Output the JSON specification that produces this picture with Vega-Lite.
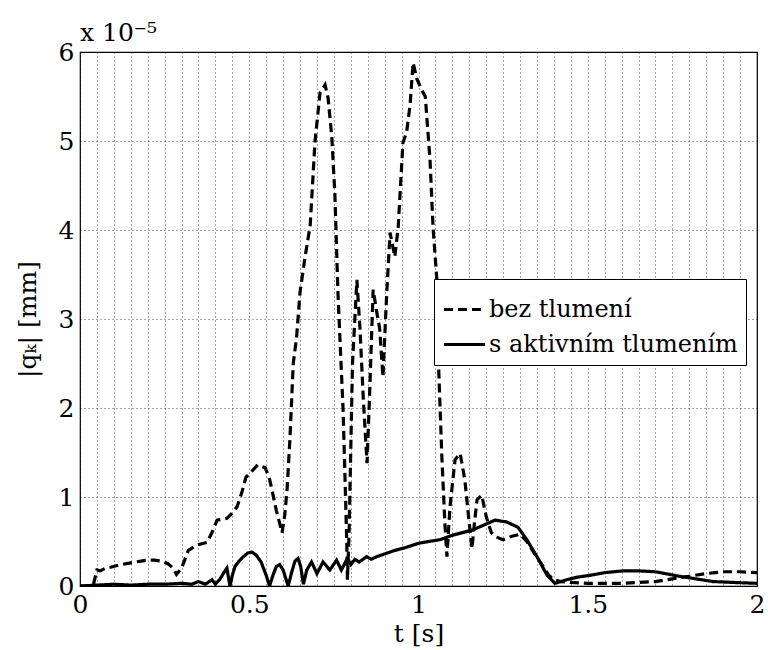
{
  "$schema": "https://vega.github.io/schema/vega-lite/v6.json",
  "width": 677,
  "height": 534,
  "autosize": "none",
  "padding": {"left": 80, "top": 52, "right": 11, "bottom": 64},
  "background": "white",
  "config": {
    "font": "DejaVu Serif",
    "view": {"stroke": "black", "strokeWidth": 1.2},
    "axis": {
      "labelFont": "DejaVu Serif", "titleFont": "DejaVu Serif",
      "labelFontSize": 25, "titleFontSize": 25, "titleFontWeight": "normal",
      "labelColor": "black", "titleColor": "black",
      "domain": false, "ticks": false,
      "grid": true, "gridColor": "black", "gridDash": [1, 3], "gridOpacity": 0.7, "gridWidth": 1
    }
  },
  "title": {
    "text": "x 10⁻⁵", "anchor": "start", "frame": "group", "font": "DejaVu Serif",
    "fontSize": 25, "fontWeight": "normal", "color": "black", "offset": -6, "dx": 0
  },
  "data": {
    "values": [
      {"t": 0, "q": 0, "s": "bez tlumení"},
      {"t": 0.03, "q": 0, "s": "bez tlumení"},
      {"t": 0.04, "q": 0.02, "s": "bez tlumení"},
      {"t": 0.05, "q": 0.18, "s": "bez tlumení"},
      {"t": 0.06, "q": 0.17, "s": "bez tlumení"},
      {"t": 0.075, "q": 0.2, "s": "bez tlumení"},
      {"t": 0.09, "q": 0.21, "s": "bez tlumení"},
      {"t": 0.12, "q": 0.24, "s": "bez tlumení"},
      {"t": 0.15, "q": 0.26, "s": "bez tlumení"},
      {"t": 0.18, "q": 0.28, "s": "bez tlumení"},
      {"t": 0.2, "q": 0.29, "s": "bez tlumení"},
      {"t": 0.22, "q": 0.29, "s": "bez tlumení"},
      {"t": 0.24, "q": 0.28, "s": "bez tlumení"},
      {"t": 0.26, "q": 0.25, "s": "bez tlumení"},
      {"t": 0.275, "q": 0.2, "s": "bez tlumení"},
      {"t": 0.285, "q": 0.13, "s": "bez tlumení"},
      {"t": 0.3, "q": 0.2, "s": "bez tlumení"},
      {"t": 0.32, "q": 0.4, "s": "bez tlumení"},
      {"t": 0.345, "q": 0.46, "s": "bez tlumení"},
      {"t": 0.375, "q": 0.49, "s": "bez tlumení"},
      {"t": 0.39, "q": 0.6, "s": "bez tlumení"},
      {"t": 0.405, "q": 0.74, "s": "bez tlumení"},
      {"t": 0.42, "q": 0.75, "s": "bez tlumení"},
      {"t": 0.434, "q": 0.76, "s": "bez tlumení"},
      {"t": 0.45, "q": 0.82, "s": "bez tlumení"},
      {"t": 0.464, "q": 0.89, "s": "bez tlumení"},
      {"t": 0.478, "q": 1.05, "s": "bez tlumení"},
      {"t": 0.49, "q": 1.22, "s": "bez tlumení"},
      {"t": 0.51, "q": 1.3, "s": "bez tlumení"},
      {"t": 0.525, "q": 1.36, "s": "bez tlumení"},
      {"t": 0.547, "q": 1.33, "s": "bez tlumení"},
      {"t": 0.56, "q": 1.2, "s": "bez tlumení"},
      {"t": 0.567, "q": 1.08, "s": "bez tlumení"},
      {"t": 0.58, "q": 0.85, "s": "bez tlumení"},
      {"t": 0.597, "q": 0.6, "s": "bez tlumení"},
      {"t": 0.605, "q": 0.8, "s": "bez tlumení"},
      {"t": 0.612, "q": 1.1, "s": "bez tlumení"},
      {"t": 0.62, "q": 1.64, "s": "bez tlumení"},
      {"t": 0.63, "q": 2.5, "s": "bez tlumení"},
      {"t": 0.64, "q": 2.8, "s": "bez tlumení"},
      {"t": 0.65, "q": 3.3, "s": "bez tlumení"},
      {"t": 0.665, "q": 3.7, "s": "bez tlumení"},
      {"t": 0.68, "q": 4.05, "s": "bez tlumení"},
      {"t": 0.694, "q": 4.98, "s": "bez tlumení"},
      {"t": 0.709, "q": 5.54, "s": "bez tlumení"},
      {"t": 0.724, "q": 5.63, "s": "bez tlumení"},
      {"t": 0.733, "q": 5.48, "s": "bez tlumení"},
      {"t": 0.744, "q": 5.04, "s": "bez tlumení"},
      {"t": 0.753, "q": 4.4, "s": "bez tlumení"},
      {"t": 0.762, "q": 3.3, "s": "bez tlumení"},
      {"t": 0.77, "q": 2.6, "s": "bez tlumení"},
      {"t": 0.777, "q": 2.0, "s": "bez tlumení"},
      {"t": 0.783, "q": 1.2, "s": "bez tlumení"},
      {"t": 0.788, "q": 0.5, "s": "bez tlumení"},
      {"t": 0.79, "q": 0.07, "s": "bez tlumení"},
      {"t": 0.795, "q": 0.6, "s": "bez tlumení"},
      {"t": 0.805, "q": 2.5, "s": "bez tlumení"},
      {"t": 0.818, "q": 3.44, "s": "bez tlumení"},
      {"t": 0.827, "q": 2.9, "s": "bez tlumení"},
      {"t": 0.837, "q": 2.1, "s": "bez tlumení"},
      {"t": 0.848, "q": 1.38, "s": "bez tlumení"},
      {"t": 0.856, "q": 2.2, "s": "bez tlumení"},
      {"t": 0.866, "q": 3.33, "s": "bez tlumení"},
      {"t": 0.877, "q": 3.07, "s": "bez tlumení"},
      {"t": 0.885, "q": 2.9, "s": "bez tlumení"},
      {"t": 0.895, "q": 2.35, "s": "bez tlumení"},
      {"t": 0.905, "q": 3.2, "s": "bez tlumení"},
      {"t": 0.916, "q": 3.97, "s": "bez tlumení"},
      {"t": 0.93, "q": 3.7, "s": "bez tlumení"},
      {"t": 0.94, "q": 4.03, "s": "bez tlumení"},
      {"t": 0.954, "q": 4.98, "s": "bez tlumení"},
      {"t": 0.965, "q": 5.1, "s": "bez tlumení"},
      {"t": 0.975, "q": 5.4, "s": "bez tlumení"},
      {"t": 0.984, "q": 5.88, "s": "bez tlumení"},
      {"t": 0.995, "q": 5.7, "s": "bez tlumení"},
      {"t": 1.01, "q": 5.57, "s": "bez tlumení"},
      {"t": 1.02, "q": 5.5, "s": "bez tlumení"},
      {"t": 1.034, "q": 4.79, "s": "bez tlumení"},
      {"t": 1.043, "q": 4.03, "s": "bez tlumení"},
      {"t": 1.055, "q": 3.4, "s": "bez tlumení"},
      {"t": 1.06, "q": 2.4, "s": "bez tlumení"},
      {"t": 1.069, "q": 1.45, "s": "bez tlumení"},
      {"t": 1.078, "q": 0.7, "s": "bez tlumení"},
      {"t": 1.084, "q": 0.33, "s": "bez tlumení"},
      {"t": 1.093, "q": 0.89, "s": "bez tlumení"},
      {"t": 1.108, "q": 1.42, "s": "bez tlumení"},
      {"t": 1.123, "q": 1.49, "s": "bez tlumení"},
      {"t": 1.137, "q": 1.19, "s": "bez tlumení"},
      {"t": 1.15, "q": 0.7, "s": "bez tlumení"},
      {"t": 1.158, "q": 0.42, "s": "bez tlumení"},
      {"t": 1.165, "q": 0.7, "s": "bez tlumení"},
      {"t": 1.173, "q": 0.97, "s": "bez tlumení"},
      {"t": 1.187, "q": 1.02, "s": "bez tlumení"},
      {"t": 1.2, "q": 0.78, "s": "bez tlumení"},
      {"t": 1.215, "q": 0.6, "s": "bez tlumení"},
      {"t": 1.23, "q": 0.55, "s": "bez tlumení"},
      {"t": 1.25, "q": 0.52, "s": "bez tlumení"},
      {"t": 1.276, "q": 0.56, "s": "bez tlumení"},
      {"t": 1.3, "q": 0.58, "s": "bez tlumení"},
      {"t": 1.32, "q": 0.5, "s": "bez tlumení"},
      {"t": 1.345, "q": 0.35, "s": "bez tlumení"},
      {"t": 1.368, "q": 0.22, "s": "bez tlumení"},
      {"t": 1.385, "q": 0.12, "s": "bez tlumení"},
      {"t": 1.4, "q": 0.07, "s": "bez tlumení"},
      {"t": 1.42, "q": 0.05, "s": "bez tlumení"},
      {"t": 1.45, "q": 0.04, "s": "bez tlumení"},
      {"t": 1.5, "q": 0.03, "s": "bez tlumení"},
      {"t": 1.55, "q": 0.03, "s": "bez tlumení"},
      {"t": 1.6, "q": 0.03, "s": "bez tlumení"},
      {"t": 1.65, "q": 0.04, "s": "bez tlumení"},
      {"t": 1.7, "q": 0.05, "s": "bez tlumení"},
      {"t": 1.75, "q": 0.08, "s": "bez tlumení"},
      {"t": 1.8, "q": 0.11, "s": "bez tlumení"},
      {"t": 1.85, "q": 0.14, "s": "bez tlumení"},
      {"t": 1.9, "q": 0.16, "s": "bez tlumení"},
      {"t": 1.95, "q": 0.16, "s": "bez tlumení"},
      {"t": 2.0, "q": 0.15, "s": "bez tlumení"},

      {"t": 0, "q": 0, "s": "s aktivním tlumením"},
      {"t": 0.05, "q": 0.01, "s": "s aktivním tlumením"},
      {"t": 0.1, "q": 0.02, "s": "s aktivním tlumením"},
      {"t": 0.15, "q": 0.01, "s": "s aktivním tlumením"},
      {"t": 0.2, "q": 0.02, "s": "s aktivním tlumením"},
      {"t": 0.25, "q": 0.02, "s": "s aktivním tlumením"},
      {"t": 0.3, "q": 0.03, "s": "s aktivním tlumením"},
      {"t": 0.33, "q": 0.02, "s": "s aktivním tlumením"},
      {"t": 0.35, "q": 0.05, "s": "s aktivním tlumením"},
      {"t": 0.37, "q": 0.02, "s": "s aktivním tlumením"},
      {"t": 0.39, "q": 0.07, "s": "s aktivním tlumením"},
      {"t": 0.4, "q": 0.02, "s": "s aktivním tlumením"},
      {"t": 0.414, "q": 0.08, "s": "s aktivním tlumením"},
      {"t": 0.425, "q": 0.15, "s": "s aktivním tlumením"},
      {"t": 0.434, "q": 0.2, "s": "s aktivním tlumením"},
      {"t": 0.443, "q": 0.0, "s": "s aktivním tlumením"},
      {"t": 0.45, "q": 0.12, "s": "s aktivním tlumením"},
      {"t": 0.458, "q": 0.22, "s": "s aktivním tlumením"},
      {"t": 0.47, "q": 0.28, "s": "s aktivním tlumením"},
      {"t": 0.48, "q": 0.32, "s": "s aktivním tlumením"},
      {"t": 0.495, "q": 0.37, "s": "s aktivním tlumením"},
      {"t": 0.508, "q": 0.38, "s": "s aktivním tlumením"},
      {"t": 0.52, "q": 0.35, "s": "s aktivním tlumením"},
      {"t": 0.535, "q": 0.27, "s": "s aktivním tlumením"},
      {"t": 0.55, "q": 0.12, "s": "s aktivním tlumením"},
      {"t": 0.56, "q": 0.0, "s": "s aktivním tlumením"},
      {"t": 0.57, "q": 0.12, "s": "s aktivním tlumením"},
      {"t": 0.58, "q": 0.22, "s": "s aktivním tlumením"},
      {"t": 0.59, "q": 0.24, "s": "s aktivním tlumením"},
      {"t": 0.6, "q": 0.18, "s": "s aktivním tlumením"},
      {"t": 0.615, "q": 0.0, "s": "s aktivním tlumením"},
      {"t": 0.625, "q": 0.15, "s": "s aktivním tlumením"},
      {"t": 0.635, "q": 0.28, "s": "s aktivním tlumením"},
      {"t": 0.644, "q": 0.31, "s": "s aktivním tlumením"},
      {"t": 0.652, "q": 0.22, "s": "s aktivním tlumením"},
      {"t": 0.66, "q": 0.02, "s": "s aktivním tlumením"},
      {"t": 0.67, "q": 0.18, "s": "s aktivním tlumením"},
      {"t": 0.684, "q": 0.27, "s": "s aktivním tlumením"},
      {"t": 0.7, "q": 0.14, "s": "s aktivním tlumením"},
      {"t": 0.718, "q": 0.27, "s": "s aktivním tlumením"},
      {"t": 0.738, "q": 0.18, "s": "s aktivním tlumením"},
      {"t": 0.758, "q": 0.29, "s": "s aktivním tlumením"},
      {"t": 0.772, "q": 0.18, "s": "s aktivním tlumením"},
      {"t": 0.79, "q": 0.31, "s": "s aktivním tlumením"},
      {"t": 0.8, "q": 0.24, "s": "s aktivním tlumením"},
      {"t": 0.812, "q": 0.3, "s": "s aktivním tlumením"},
      {"t": 0.825, "q": 0.27, "s": "s aktivním tlumením"},
      {"t": 0.847, "q": 0.33, "s": "s aktivním tlumením"},
      {"t": 0.86, "q": 0.3, "s": "s aktivním tlumením"},
      {"t": 0.877, "q": 0.33, "s": "s aktivním tlumením"},
      {"t": 0.9, "q": 0.36, "s": "s aktivním tlumením"},
      {"t": 0.93, "q": 0.4, "s": "s aktivním tlumením"},
      {"t": 0.96, "q": 0.43, "s": "s aktivním tlumením"},
      {"t": 1.0, "q": 0.48, "s": "s aktivním tlumením"},
      {"t": 1.03, "q": 0.5, "s": "s aktivním tlumením"},
      {"t": 1.063, "q": 0.52, "s": "s aktivním tlumením"},
      {"t": 1.1, "q": 0.57, "s": "s aktivním tlumením"},
      {"t": 1.13, "q": 0.6, "s": "s aktivním tlumením"},
      {"t": 1.161, "q": 0.63, "s": "s aktivním tlumením"},
      {"t": 1.19, "q": 0.68, "s": "s aktivním tlumením"},
      {"t": 1.226, "q": 0.74, "s": "s aktivním tlumením"},
      {"t": 1.26, "q": 0.72, "s": "s aktivním tlumením"},
      {"t": 1.294, "q": 0.66, "s": "s aktivním tlumením"},
      {"t": 1.32, "q": 0.52, "s": "s aktivním tlumením"},
      {"t": 1.35, "q": 0.33, "s": "s aktivním tlumením"},
      {"t": 1.38, "q": 0.12, "s": "s aktivním tlumením"},
      {"t": 1.403, "q": 0.03, "s": "s aktivním tlumením"},
      {"t": 1.42, "q": 0.05, "s": "s aktivním tlumením"},
      {"t": 1.438, "q": 0.07, "s": "s aktivním tlumením"},
      {"t": 1.47, "q": 0.1, "s": "s aktivním tlumením"},
      {"t": 1.507, "q": 0.12, "s": "s aktivním tlumením"},
      {"t": 1.55, "q": 0.15, "s": "s aktivním tlumením"},
      {"t": 1.604, "q": 0.17, "s": "s aktivním tlumením"},
      {"t": 1.65, "q": 0.17, "s": "s aktivním tlumením"},
      {"t": 1.7, "q": 0.16, "s": "s aktivním tlumením"},
      {"t": 1.77, "q": 0.11, "s": "s aktivním tlumením"},
      {"t": 1.82, "q": 0.08, "s": "s aktivním tlumením"},
      {"t": 1.87, "q": 0.05, "s": "s aktivním tlumením"},
      {"t": 1.93, "q": 0.04, "s": "s aktivním tlumením"},
      {"t": 2.0, "q": 0.03, "s": "s aktivním tlumením"}
    ]
  },
  "mark": {"type": "line", "color": "black", "strokeWidth": 3.2, "clip": true},
  "encoding": {
    "x": {
      "field": "t", "type": "quantitative",
      "scale": {"domain": [0, 2], "nice": false, "zero": false},
      "axis": {
        "title": "t  [s]", "titlePadding": 4,
        "values": [0,0.05,0.1,0.15,0.2,0.25,0.3,0.35,0.4,0.45,0.5,0.55,0.6,0.65,0.7,0.75,0.8,0.85,0.9,0.95,1,1.05,1.1,1.15,1.2,1.25,1.3,1.35,1.4,1.45,1.5,1.55,1.6,1.65,1.7,1.75,1.8,1.85,1.9,1.95,2],
        "labelExpr": "abs(datum.value*2 - round(datum.value*2)) < 0.001 ? format(datum.value, '~g') : ''",
        "labelPadding": 6, "labelFlush": false, "labelOverlap": false
      }
    },
    "y": {
      "field": "q", "type": "quantitative",
      "scale": {"domain": [0, 6], "nice": false},
      "axis": {
        "title": "|qₖ|  [mm]", "titlePadding": 18,
        "values": [0,1,2,3,4,5,6], "labelPadding": 6, "labelFlush": false
      }
    },
    "strokeDash": {
      "field": "s", "type": "nominal",
      "scale": {"domain": ["bez tlumení", "s aktivním tlumením"], "range": [[9, 5], [1, 0]]},
      "legend": {
        "title": null, "orient": "none", "legendX": 354, "legendY": 227,
        "fillColor": "white", "strokeColor": "black", "padding": 8,
        "labelFont": "DejaVu Serif", "labelFontSize": 24, "labelColor": "black",
        "labelLimit": 500,
        "symbolType": "stroke", "symbolSize": 1681, "symbolStrokeWidth": 3.2,
        "symbolStrokeColor": "black", "rowPadding": 0, "labelOffset": 2
      }
    }
  }
}
